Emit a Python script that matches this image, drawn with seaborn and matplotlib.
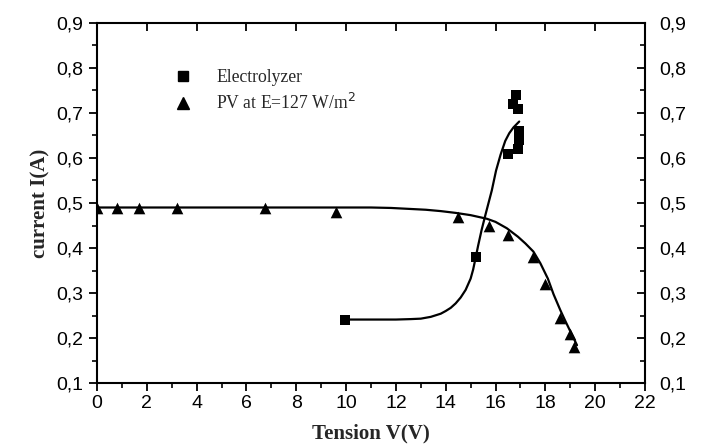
import matplotlib
matplotlib.use("Agg")
import matplotlib.pyplot as plt
import seaborn as sns
import pandas as pd
from matplotlib.ticker import MultipleLocator, FuncFormatter
from matplotlib.lines import Line2D

# Measured data
elec_v = [9.96, 15.2, 16.48, 16.72, 16.81, 16.92, 16.95, 16.95, 16.89]
elec_i = [0.24, 0.38, 0.61, 0.72, 0.74, 0.71, 0.66, 0.64, 0.62]

pv_v = [0.0, 0.8, 1.7, 3.2, 6.75, 9.6, 14.5, 15.75, 16.5, 17.5, 18.0, 18.6, 19.0, 19.15]
pv_i = [0.49, 0.49, 0.49, 0.49, 0.49, 0.48, 0.47, 0.45, 0.43, 0.38, 0.32, 0.245, 0.21, 0.18]

# Fitted curves
elec_fit_v = [10.0, 11.0, 12.0, 12.6, 13.0, 13.4, 13.8, 14.0, 14.2, 14.4, 14.6, 14.8, 15.0,
              15.1, 15.2, 15.3, 15.44, 15.6, 15.85, 16.02, 16.2, 16.39, 16.55, 16.72, 16.95]
elec_fit_i = [0.241, 0.241, 0.241, 0.242, 0.243, 0.247, 0.254, 0.26, 0.267, 0.277, 0.29, 0.307, 0.332,
              0.352, 0.378, 0.405, 0.44, 0.475, 0.528, 0.572, 0.607, 0.638, 0.655, 0.668, 0.681]

pv_fit_v = [0.0, 2.0, 4.0, 6.0, 8.0, 10.0, 11.0, 11.8, 12.5, 13.2, 13.8, 14.4, 15.0, 15.65,
            16.0, 16.45, 16.9, 17.2, 17.52, 17.8, 18.1, 18.33, 18.6, 18.8, 19.0, 19.27]
pv_fit_i = [0.49, 0.49, 0.49, 0.49, 0.49, 0.49, 0.49, 0.489, 0.487, 0.485, 0.482, 0.478, 0.473, 0.465,
            0.458, 0.444, 0.425, 0.41, 0.392, 0.366, 0.332, 0.297, 0.262, 0.238, 0.215, 0.184]

x_ticks = list(range(0, 23, 2))
y_ticks = [0.1, 0.2, 0.3, 0.4, 0.5, 0.6, 0.7, 0.8, 0.9]

sns.set_theme(style="ticks")
plt.rcParams['font.family'] = ['Liberation Sans', 'DejaVu Sans']

fig = plt.figure(figsize=(7.04, 4.46), dpi=100)
ax = fig.add_axes([97/704, 1-383/446, (645-97)/704, (383-23)/446])

df_ef = pd.DataFrame({"v": elec_fit_v, "i": elec_fit_i})
df_pf = pd.DataFrame({"v": pv_fit_v, "i": pv_fit_i})
df_e = pd.DataFrame({"v": elec_v, "i": elec_i})
df_p = pd.DataFrame({"v": pv_v, "i": pv_i})

sns.lineplot(data=df_ef, x="v", y="i", color="black", lw=1.6, sort=False, ax=ax, estimator=None)
sns.lineplot(data=df_pf, x="v", y="i", color="black", lw=1.6, sort=False, ax=ax, estimator=None)
sns.scatterplot(data=df_e, x="v", y="i", marker="s", s=55, color="black", edgecolor="black",
                linewidth=0, ax=ax, zorder=5)
sns.scatterplot(data=df_p, x="v", y="i", marker="^", s=70, color="black", edgecolor="black",
                linewidth=0, ax=ax, zorder=5)

ax.set_xlim(0, 22)
ax.set_ylim(0.1, 0.9)
ax.set_xticks(x_ticks)
ax.set_yticks(y_ticks)
ax.xaxis.set_minor_locator(MultipleLocator(1))
ax.yaxis.set_minor_locator(MultipleLocator(0.05))
fmt = FuncFormatter(lambda v, p: f"{v:.1f}".replace(".", ","))
ax.yaxis.set_major_formatter(fmt)
ax.xaxis.set_major_formatter(FuncFormatter(lambda v, p: f"{int(round(v))}"))

for s in ax.spines.values():
    s.set_linewidth(1.5)
    s.set_color("black")

ax.tick_params(axis="both", which="major", labelsize=14, length=6, width=1.3, colors="black")
ax.tick_params(axis="both", which="minor", length=3.5, width=1.2, colors="black")
ax.tick_params(axis="x", which="both", direction="out", top=True, bottom=True)
ax.tick_params(axis="y", which="both", direction="out", left=True, right=True,
               labelright=True, labelleft=True)
ax.tick_params(axis="x", which="major", pad=3)
ax.tick_params(axis="y", which="major", pad=4)

# inward ticks on the right and top sides
for t in ax.yaxis.get_major_ticks() + ax.yaxis.get_minor_ticks():
    t.tick2line.set_marker(matplotlib.lines.TICKLEFT)
for t in ax.xaxis.get_major_ticks() + ax.xaxis.get_minor_ticks():
    t.tick2line.set_marker(matplotlib.lines.TICKDOWN)
for t in ax.xaxis.get_minor_ticks():
    t.tick2line.set_visible(False)

ax.set_xlabel("Tension V(V)", fontsize=15, fontweight="bold", family="Liberation Serif", labelpad=8)
ax.set_ylabel("current I(A)", fontsize=15, fontweight="bold", family="Liberation Serif", labelpad=4)

handles = [
    Line2D([], [], marker="s", color="black", linestyle="none", markersize=7),
    Line2D([], [], marker="^", color="black", linestyle="none", markersize=8.5),
]
ax.legend(handles, ["Electrolyzer", r"PV at E=127 W/m$^2$"], loc="upper left",
          bbox_to_anchor=(0.095, 0.915), frameon=False, handletextpad=0.9,
          prop={"family": "Liberation Serif", "size": 12.7}, labelspacing=0.35)

fig.savefig("out.png", dpi=100)
